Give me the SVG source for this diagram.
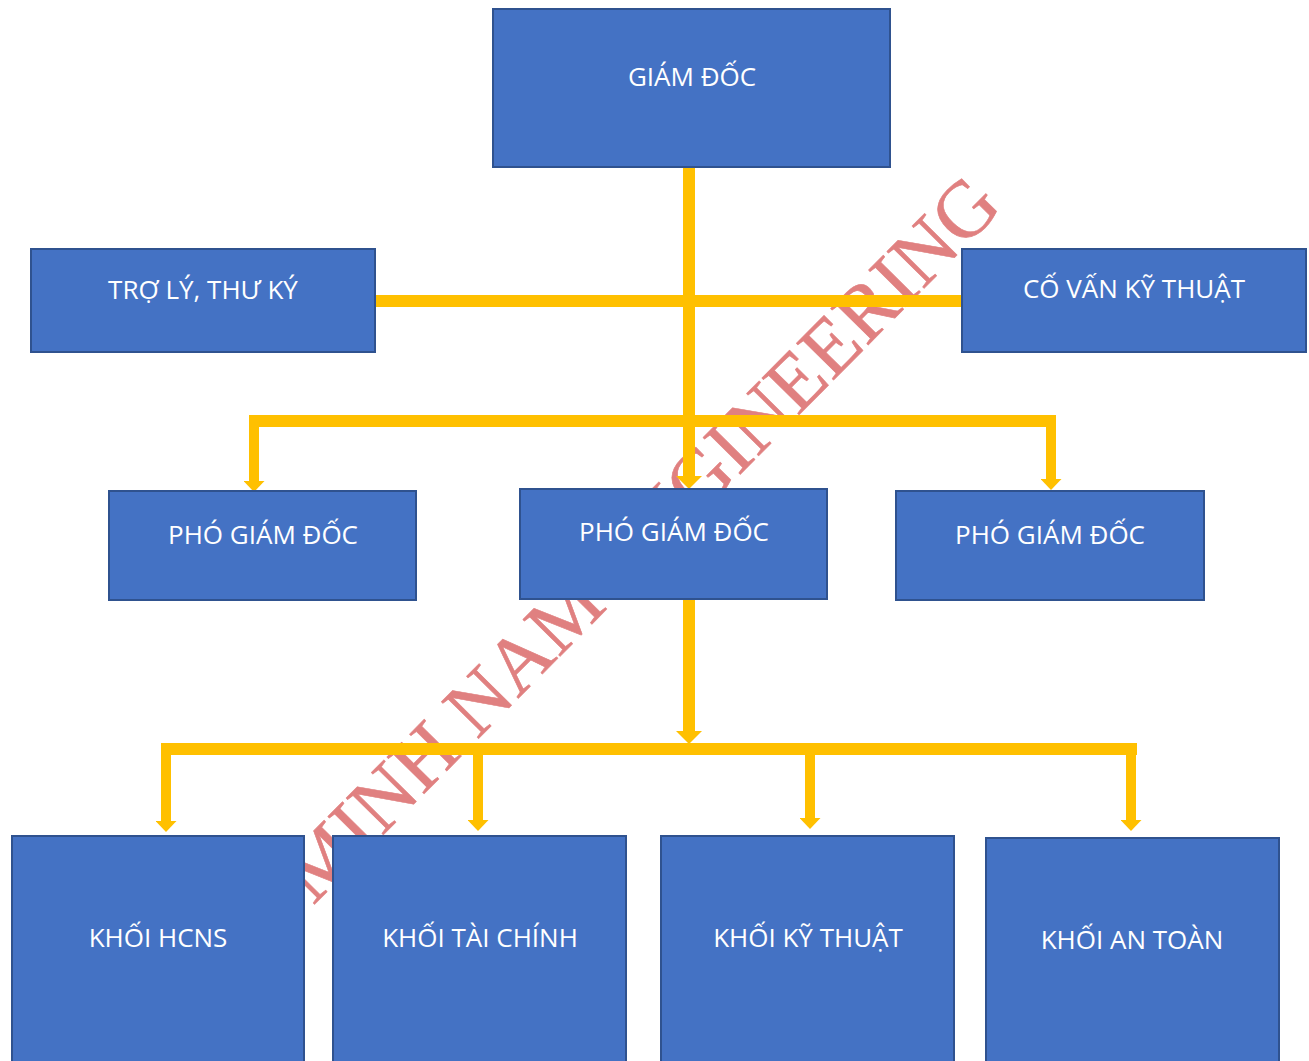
<svg xmlns="http://www.w3.org/2000/svg" width="1309" height="1061" viewBox="0 0 1309 1061">
<style>
.box{fill:#4472C4;stroke:#2F528F;stroke-width:2}
.lbl{font-family:"Open Sans","Noto Sans","Liberation Sans",sans-serif;font-size:26px;fill:#FFFFFF;text-anchor:middle}
.main{fill:none;stroke:#FFC000;stroke-width:12;stroke-linejoin:miter;stroke-linecap:butt}
.tick{fill:none;stroke:#FFC000;stroke-width:10;stroke-linecap:butt}
.wm{font-family:"Liberation Serif","Times New Roman",serif;font-size:80px;fill:#E08080;stroke:#E08080;stroke-width:0.6}
</style>
<defs>
<marker id="ahBig" markerUnits="userSpaceOnUse" markerWidth="13" markerHeight="26" refX="0" refY="13" orient="auto" viewBox="0 0 13 26">
<path d="M0,0 L13,13 L0,26 Z" fill="#FFC000"/>
</marker>
<marker id="ahSmall" markerUnits="userSpaceOnUse" markerWidth="11" markerHeight="21" refX="0" refY="10.5" orient="auto" viewBox="0 0 11 21">
<path d="M0,0 L11,10.5 L0,21 Z" fill="#FFC000"/>
</marker>
</defs>
<rect width="1309" height="1061" fill="#FFFFFF"/>
<text class="wm" transform="translate(313,906) rotate(-45.3)">MINH NAM ENGINEERING</text>
<g id="connectors">
<path class="main" d="M689,167 V476" marker-end="url(#ahBig)"/>
<path class="main" d="M375,301 H962"/>
<path class="main" d="M249,421 H1056"/>
<path class="tick" d="M254,421 V481" marker-end="url(#ahSmall)"/>
<path class="tick" d="M1051,421 V479" marker-end="url(#ahSmall)"/>
<path class="main" d="M689,600 V731" marker-end="url(#ahBig)"/>
<path class="main" d="M161,749 H1137"/>
<path class="tick" d="M166,749 V821" marker-end="url(#ahSmall)"/>
<path class="tick" d="M478,749 V820" marker-end="url(#ahSmall)"/>
<path class="tick" d="M810,749 V818" marker-end="url(#ahSmall)"/>
<path class="tick" d="M1131,749 V820" marker-end="url(#ahSmall)"/>
</g>
<g id="giam-doc"><rect class="box" x="493" y="9" width="397" height="158"/><text class="lbl" x="692" y="86">GIÁM ĐỐC</text></g>
<g id="tro-ly"><rect class="box" x="31" y="249" width="344" height="103"/><text class="lbl" x="203" y="299">TRỢ LÝ, THƯ KÝ</text></g>
<g id="co-van"><rect class="box" x="962" y="249" width="344" height="103"/><text class="lbl" x="1134" y="298">CỐ VẤN KỸ THUẬT</text></g>
<g id="pho-giam-doc-1"><rect class="box" x="109" y="491" width="307" height="109"/><text class="lbl" x="263" y="544">PHÓ GIÁM ĐỐC</text></g>
<g id="pho-giam-doc-2"><rect class="box" x="520" y="489" width="307" height="110"/><text class="lbl" x="674" y="541">PHÓ GIÁM ĐỐC</text></g>
<g id="pho-giam-doc-3"><rect class="box" x="896" y="491" width="308" height="109"/><text class="lbl" x="1050" y="544">PHÓ GIÁM ĐỐC</text></g>
<g id="khoi-hcns"><rect class="box" x="12" y="836" width="292" height="240"/><text class="lbl" x="158" y="947">KHỐI HCNS</text></g>
<g id="khoi-tai-chinh"><rect class="box" x="333" y="836" width="293" height="240"/><text class="lbl" x="480" y="947">KHỐI TÀI CHÍNH</text></g>
<g id="khoi-ky-thuat"><rect class="box" x="661" y="836" width="293" height="240"/><text class="lbl" x="808" y="947">KHỐI KỸ THUẬT</text></g>
<g id="khoi-an-toan"><rect class="box" x="986" y="838" width="293" height="240"/><text class="lbl" x="1132" y="949">KHỐI AN TOÀN</text></g>
</svg>
